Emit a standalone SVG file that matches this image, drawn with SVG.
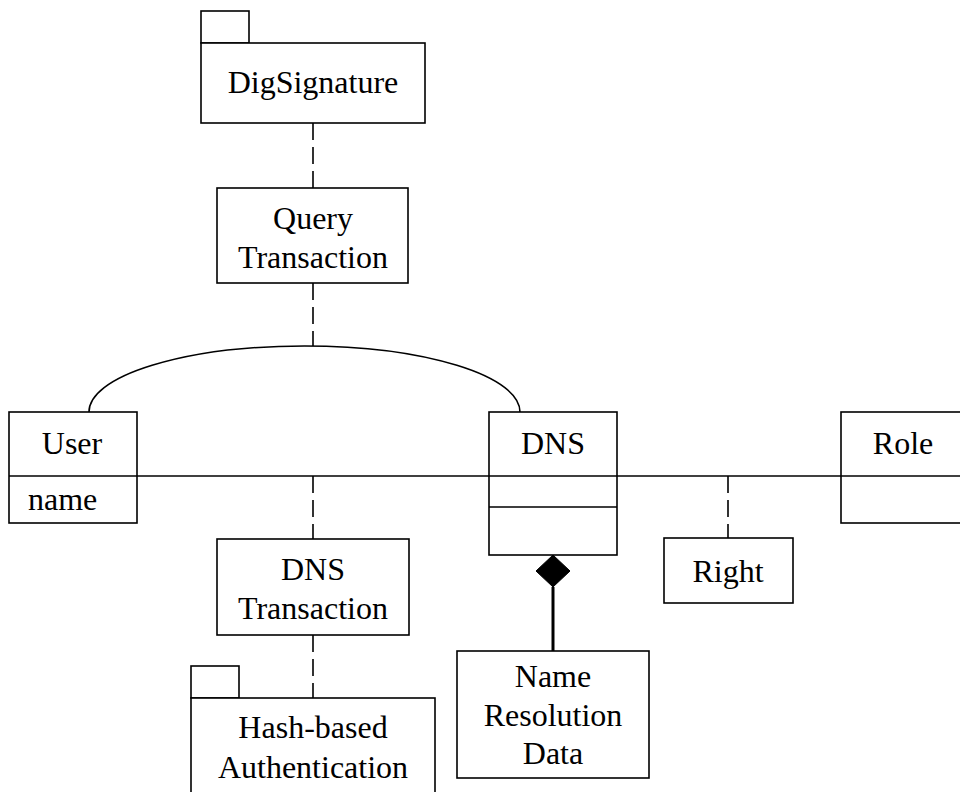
<svg xmlns="http://www.w3.org/2000/svg" width="960" height="792" viewBox="0 0 960 792">
<style>
.b{fill:#fff;stroke:#000;stroke-width:1.6}
.l{fill:none;stroke:#000;stroke-width:1.6}
.d{fill:none;stroke:#000;stroke-width:1.6;stroke-dasharray:17 7}
text{font-family:"Liberation Serif","Times New Roman",serif;font-size:32px;fill:#000}
.c{text-anchor:middle}
</style>
<rect width="960" height="792" fill="#fff"/>
<g id="connectors">
<path class="d" d="M313,123 V188"/>
<path class="d" d="M313,283 V346"/>
<path class="l" d="M89,412 A215.5,66 0 0 1 520,412"/>
<path class="l" d="M137,476 H841"/>
<path class="d" d="M313,476 V539"/>
<path class="d" d="M313,635 V698"/>
<path class="d" d="M728,476 V538"/>
<path d="M553,555 L570,571 L553,587 L536,571 Z" fill="#000" stroke="#000" stroke-width="1"/>
<path d="M553,587 V651" stroke="#000" stroke-width="3"/>
</g>
<g id="DigSignature">
<rect class="b" x="201" y="11" width="48" height="32"/>
<rect class="b" x="201" y="43" width="224" height="80"/>
<text class="c" x="313" y="93">DigSignature</text>
</g>
<g id="QueryTransaction">
<rect class="b" x="217" y="188" width="191" height="95"/>
<text class="c" x="313" y="229">Query</text>
<text class="c" x="313" y="268">Transaction</text>
</g>
<g id="User">
<rect class="b" x="9" y="412" width="128" height="111"/>
<path class="l" d="M9,476 H137"/>
<text class="c" x="72" y="454">User</text>
<text x="28" y="510">name</text>
</g>
<g id="DNS">
<rect class="b" x="489" y="412" width="128" height="143"/>
<path class="l" d="M489,476 H617 M489,507 H617"/>
<text class="c" x="553" y="454">DNS</text>
</g>
<g id="Role">
<rect class="b" x="841" y="412" width="130" height="111"/>
<path class="l" d="M841,476 H971"/>
<text class="c" x="903" y="454">Role</text>
</g>
<g id="Right">
<rect class="b" x="664" y="538" width="129" height="65"/>
<text class="c" x="728" y="582">Right</text>
</g>
<g id="DNSTransaction">
<rect class="b" x="217" y="539" width="192" height="96"/>
<text class="c" x="313" y="580">DNS</text>
<text class="c" x="313" y="619">Transaction</text>
</g>
<g id="HashBasedAuthentication">
<rect class="b" x="191" y="666" width="48" height="32"/>
<rect class="b" x="191" y="698" width="244" height="110"/>
<text class="c" x="313" y="738">Hash-based</text>
<text class="c" x="313" y="778">Authentication</text>
</g>
<g id="NameResolutionData">
<rect class="b" x="457" y="651" width="192" height="127"/>
<text class="c" x="553" y="687">Name</text>
<text class="c" x="553" y="726">Resolution</text>
<text class="c" x="553" y="764">Data</text>
</g>
</svg>
